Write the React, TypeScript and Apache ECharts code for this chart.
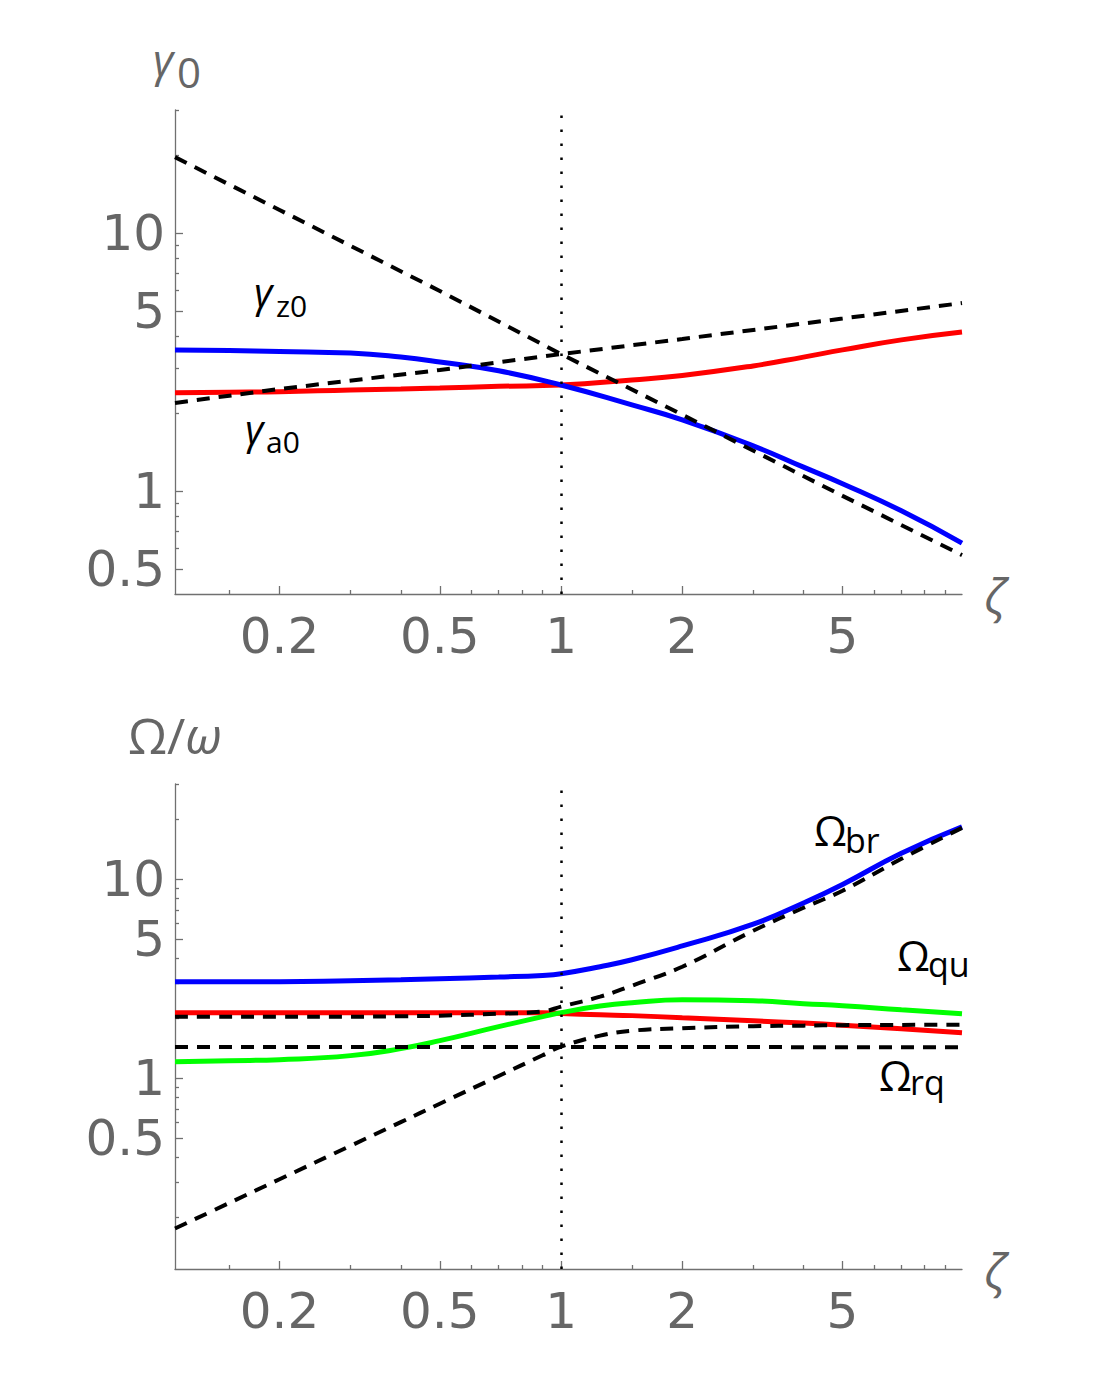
import React, { useEffect, useRef } from 'react';
import * as echarts from 'echarts';

// ---------- axis ranges & ticks ----------
const X_RANGE = [0.11, 9.9];
const TOP_Y_RANGE = [0.4, 30];
const BOT_Y_RANGE = [0.11, 30];

const X_MAJOR = [0.2, 0.5, 1, 2, 5];
const X_MINOR = [0.15, 0.3, 0.4, 0.6, 0.7, 0.8, 0.9, 1.5, 3, 4, 6, 7, 8, 9];
const Y_MAJOR = [0.5, 1, 5, 10];
const Y_MINOR_TOP = [0.6, 0.7, 0.8, 0.9, 2, 3, 4, 6, 7, 8, 9, 20, 30];
const Y_MINOR_BOT = [0.2, 0.3, 0.4, 0.6, 0.7, 0.8, 0.9, 2, 3, 4, 6, 7, 8, 9, 20, 30];

// ---------- top panel data (gamma_0 vs zeta) ----------
const ZETA_TOP = [0.11, 0.15, 0.2, 0.3, 0.4, 0.5, 0.7, 1, 1.5, 2, 3, 4, 5, 7, 9.9];
const GAMMA_Z0 = [3.53, 3.51, 3.48, 3.43, 3.31, 3.17, 2.93, 2.58, 2.16, 1.89, 1.5, 1.24, 1.07, 0.84, 0.63];
const GAMMA_A0 = [2.41, 2.42, 2.43, 2.47, 2.49, 2.51, 2.55, 2.58, 2.7, 2.81, 3.06, 3.31, 3.53, 3.86, 4.14];
const ZETA_TOP_ASYM = [0.11, 0.2, 0.5, 1, 2, 5, 9.9];
const GAMMA_ASYM_RISE = [2.2, 2.49, 2.95, 3.4, 3.89, 4.67, 5.36];
const GAMMA_ASYM_FALL = [19.7, 12.3, 5.97, 3.4, 1.98, 0.96, 0.566];

// ---------- bottom panel data (Omega/omega vs zeta) ----------
const ZETA_BOT = [0.11, 0.15, 0.2, 0.3, 0.4, 0.5, 0.7, 0.9, 1, 1.25, 1.5, 2, 3, 4, 5, 7, 9.9];
const OMEGA_BR = [3.05, 3.05, 3.05, 3.085, 3.12, 3.157, 3.22, 3.28, 3.345, 3.627, 3.93, 4.61, 5.93, 7.58, 9.39, 13.46, 18.28];
const OMEGA_QU = [2.13, 2.13, 2.13, 2.13, 2.13, 2.13, 2.13, 2.13, 2.11, 2.08, 2.06, 2.01, 1.94, 1.89, 1.845, 1.77, 1.69];
const OMEGA_GREEN = [1.21, 1.224, 1.238, 1.297, 1.406, 1.542, 1.813, 2.035, 2.132, 2.3, 2.392, 2.477, 2.448, 2.365, 2.311, 2.206, 2.107];
const OMEGA_ASYM_C = [2.035, 2.035, 2.035, 2.035, 2.045, 2.059, 2.107, 2.16, 2.285, 2.564, 2.912, 3.627, 5.497, 7.17, 8.727, 12.63, 18.07];
const OMEGA_ASYM_D = [0.1757, 0.236, 0.3105, 0.457, 0.601, 0.744, 1.025, 1.302, 1.439, 1.634, 1.731, 1.782, 1.824, 1.835, 1.845, 1.85, 1.855];
const ZETA_FLAT = [0.11, 9.9];
const OMEGA_RQ = [1.435, 1.43];

const TICK_FONT = '"DejaVu Sans", Verdana, sans-serif';
const FONT = '"Open Sans", "Noto Sans", sans-serif';
const AXIS_COLOR = '#707070';
const LABEL_COLOR = '#666666';

const lg = (v: number) => Math.log10(v);
const pts = (xs: number[], ys: number[]) => xs.map((x, i) => [lg(x), lg(ys[i])]);
const fmt = (v: number) => String(parseFloat(Math.pow(10, v).toPrecision(2)));

function makeXAxes(gridIndex: number) {
  const base = {
    type: 'value',
    gridIndex,
    position: 'bottom',
    min: lg(X_RANGE[0]),
    max: lg(X_RANGE[1]),
    splitLine: { show: false },
  };
  return [
    {
      ...base,
      axisLine: { show: true, onZero: false, lineStyle: { color: AXIS_COLOR, width: 1.3 } },
      axisTick: { show: true, inside: true, length: 8, lineStyle: { color: AXIS_COLOR, width: 1.3 }, customValues: X_MAJOR.map(lg) },
      axisLabel: { show: true, customValues: X_MAJOR.map(lg), formatter: fmt, fontSize: 50, color: LABEL_COLOR, fontFamily: TICK_FONT, margin: 17 },
      name: 'ζ',
      nameLocation: 'end',
      nameGap: 22,
      nameTextStyle: { fontSize: 48, fontStyle: 'italic', color: LABEL_COLOR, fontFamily: FONT, padding: [6, 0, 0, 0] },
    },
    {
      ...base,
      axisLine: { show: false, onZero: false },
      axisTick: { show: true, inside: true, length: 4, lineStyle: { color: AXIS_COLOR, width: 1.3 }, customValues: X_MINOR.map(lg) },
      axisLabel: { show: false },
    },
  ];
}

function makeYAxes(gridIndex: number, range: number[], minor: number[], name?: any) {
  const base = {
    type: 'value',
    gridIndex,
    position: 'left',
    min: lg(range[0]),
    max: lg(range[1]),
    splitLine: { show: false },
  };
  const major: any = {
    ...base,
    axisLine: { show: true, onZero: false, lineStyle: { color: AXIS_COLOR, width: 1.3 } },
    axisTick: { show: true, inside: true, length: 8, lineStyle: { color: AXIS_COLOR, width: 1.3 }, customValues: Y_MAJOR.map(lg) },
    axisLabel: { show: true, customValues: Y_MAJOR.map(lg), formatter: fmt, fontSize: 50, color: LABEL_COLOR, fontFamily: TICK_FONT, margin: 10, padding: [4, 0, 0, 0] },
  };
  if (name) Object.assign(major, name);
  return [
    major,
    {
      ...base,
      axisLine: { show: false, onZero: false },
      axisTick: { show: true, inside: true, length: 4, lineStyle: { color: AXIS_COLOR, width: 1.3 }, customValues: minor.map(lg) },
      axisLabel: { show: false },
    },
  ];
}

const solid = (name: string, data: number[][], color: string, xi: number, yi: number, extra: any = {}) => ({
  name,
  type: 'line',
  xAxisIndex: xi,
  yAxisIndex: yi,
  data,
  smooth: 0.5,
  symbol: 'none',
  z: 2,
  lineStyle: { color, width: 5 },
  ...extra,
});

const dashed = (name: string, data: number[][], xi: number, yi: number, smooth = 0) => ({
  name,
  type: 'line',
  xAxisIndex: xi,
  yAxisIndex: yi,
  data,
  smooth,
  symbol: 'none',
  z: 3,
  lineStyle: { color: '#000', width: 4, type: [13, 9] },
});

const dottedMark = {
  silent: true,
  symbol: ['none', 'none'],
  label: { show: false },
  lineStyle: { color: '#000', width: 2.5, type: [2.5, 11.5] },
  data: [{ xAxis: 0 }],
};

const labelText = (text: string, x: number, y: number, size: number, color: string, italic = false) => ({
  type: 'text',
  x,
  y,
  silent: true,
  style: {
    text,
    fontSize: size,
    fontFamily: FONT,
    fontStyle: italic ? 'italic' : 'normal',
    fill: color,
    align: 'left',
    verticalAlign: 'middle',
  },
});

export default function App() {
  const ref = useRef<HTMLDivElement>(null);

  useEffect(() => {
    document.body.style.margin = '0';
    if (!ref.current) return;
    const chart = echarts.init(ref.current, undefined, { renderer: 'svg' });

    const option: any = {
      animation: false,
      backgroundColor: '#ffffff',
      grid: [
        { left: 175, top: 110, width: 787, height: 484 },
        { left: 175, top: 784, width: 787, height: 485 },
      ],
      xAxis: [...makeXAxes(0), ...makeXAxes(1)],
      yAxis: [
        ...makeYAxes(0, TOP_Y_RANGE, Y_MINOR_TOP),
        ...makeYAxes(1, BOT_Y_RANGE, Y_MINOR_BOT, {
          name: '{u|Ω/}{i|ω}',
          nameLocation: 'end',
          nameGap: 24,
          nameTextStyle: {
            color: LABEL_COLOR,
            fontFamily: FONT,
            fontSize: 50,
            rich: {
              u: { fontSize: 50, fontFamily: FONT, color: LABEL_COLOR },
              i: { fontSize: 50, fontFamily: FONT, color: LABEL_COLOR, fontStyle: 'italic' },
            },
          },
        }),
      ],
      series: [
        // top panel
        solid('γa0', pts(ZETA_TOP, GAMMA_A0), '#ff0000', 0, 0),
        solid('γz0', pts(ZETA_TOP, GAMMA_Z0), '#0000ff', 0, 0, { markLine: dottedMark }),
        dashed('γ asymptote rising', pts(ZETA_TOP_ASYM, GAMMA_ASYM_RISE), 0, 0),
        dashed('γ asymptote falling', pts(ZETA_TOP_ASYM, GAMMA_ASYM_FALL), 0, 0),
        // bottom panel
        solid('Ωbr', pts(ZETA_BOT, OMEGA_BR), '#0000ff', 2, 2, { markLine: dottedMark }),
        solid('Ωqu', pts(ZETA_BOT, OMEGA_QU), '#ff0000', 2, 2),
        solid('Ω green', pts(ZETA_BOT, OMEGA_GREEN), '#00ff00', 2, 2),
        dashed('Ω asymptote C', pts(ZETA_BOT, OMEGA_ASYM_C), 2, 2, 0.4),
        dashed('Ω asymptote D', pts(ZETA_BOT, OMEGA_ASYM_D), 2, 2, 0.4),
        dashed('Ωrq', pts(ZETA_FLAT, OMEGA_RQ), 2, 2),
      ],
      graphic: [
        // top axis name γ0
        labelText('γ', 153, 59, 44, LABEL_COLOR, true),
        labelText('0', 177, 71, 42, LABEL_COLOR),
        // curve labels
        labelText('γ', 254, 291, 40, '#000', true),
        labelText('z0', 276, 305, 30, '#000'),
        labelText('γ', 245, 428, 40, '#000', true),
        labelText('a0', 266, 441, 30, '#000'),
        labelText('Ω', 814, 829, 42, '#000'),
        labelText('br', 845, 840, 34, '#000'),
        labelText('Ω', 897, 954, 42, '#000'),
        labelText('qu', 928, 964, 34, '#000'),
        labelText('Ω', 879, 1074, 42, '#000'),
        labelText('rq', 910, 1082, 34, '#000'),
      ],
    };

    chart.setOption(option);
    return () => chart.dispose();
  }, []);

  return (
    <div
      ref={ref}
      style={{ position: 'absolute', left: 0, top: 0, width: 1106, height: 1375, background: '#fff' }}
    />
  );
}
